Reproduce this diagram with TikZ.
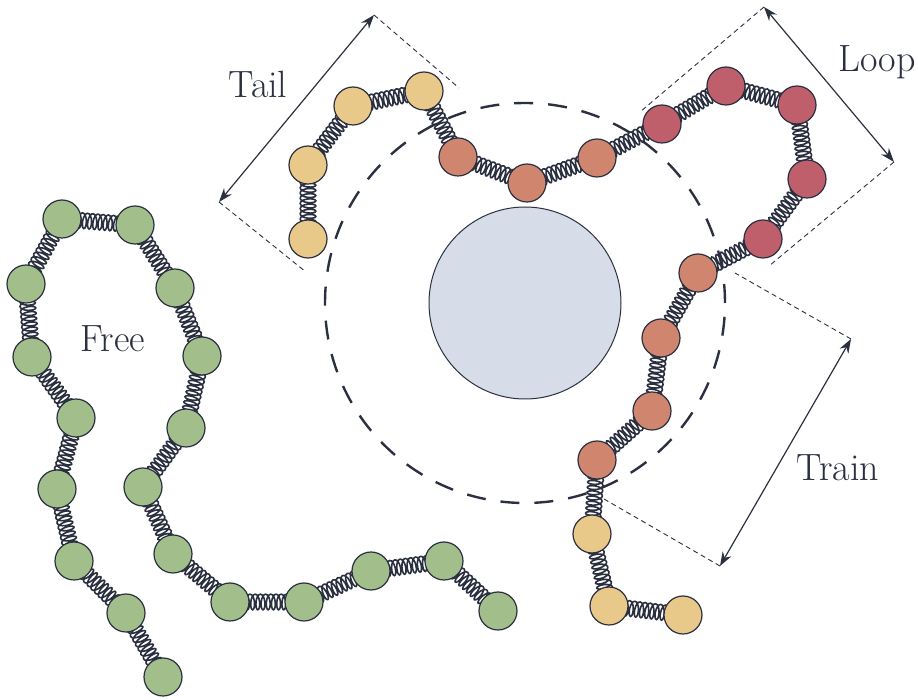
\documentclass[tikz,border=0pt]{standalone}
\usetikzlibrary{decorations.pathmorphing, arrows.meta, backgrounds}
\definecolor{encre}{RGB}{43,48,64}
\definecolor{jaune}{RGB}{233,201,138}
\definecolor{brique}{RGB}{208,134,110}
\definecolor{rouge}{RGB}{190,95,107}
\definecolor{vert}{RGB}{161,190,139}
\definecolor{gris}{RGB}{214,220,232}
\begin{document}
\begin{tikzpicture}[x=0.5pt, y=-0.5pt, font=\fontsize{19}{23}\selectfont]
	\tikzset{bille/.style={circle, draw=encre, line width=0.6pt, minimum size=19pt, inner sep=0pt},
	ressort/.style={encre, line width=0.8pt, decorate, decoration={coil, amplitude=3.9pt, aspect=0.4, segment length=2.6pt}},
	cote/.style={encre, line width=0.6pt, {Stealth[length=7pt, width=5pt]}-{Stealth[length=7pt, width=5pt]}},
	rappel/.style={encre, line width=0.45pt, dash pattern=on 2.5pt off 1.8pt},
	etiq/.style={text=encre}};
	\useasboundingbox (0,0) rectangle (918,700);

	% particule
	\node[circle, draw=encre, line width=0.5pt, fill=gris, minimum size=96pt, inner sep=0pt] (P) at (525,303) {};

	% chaine adsorbee : queue, train, boucle, train, queue
	\foreach \i/\x/\y/\c in {1/308/239/jaune, 2/308/165/jaune, 3/353/106/jaune, 4/424/91/jaune,
			5/458/157/brique, 6/527/183/brique, 7/597/158/brique,
			8/662/124/rouge, 9/726/86/rouge, 10/797/105/rouge, 11/807/179/rouge, 12/763/239/rouge,
			13/698/273/brique, 14/661/338/brique, 15/652/411/brique, 16/597/460/brique,
			17/592/534/jaune, 18/609/606/jaune, 19/683/615/jaune} {
		\node[bille, fill=\c] (C\i) at (\x,\y) {};
	}

	% chaine libre
	\foreach \i/\x/\y in {1/163/677, 2/126/613, 3/74/561, 4/57/489, 5/76/418, 6/32/357, 7/26/284,
			8/62/219, 9/135/225, 10/175/288, 11/202/356, 12/186/428, 13/143/487, 14/173/554,
			15/230/602, 16/304/602, 17/371/571, 18/444/561, 19/498/611} {
		\node[bille, fill=vert] (L\i) at (\x,\y) {};
	}

	% ressorts sous les billes
	\begin{pgfonlayer}{background}
		\foreach \i [remember=\i as \j (initially 1)] in {2,...,19} {
			\draw[ressort] (C\j.center) -- (C\i.center);
			\draw[ressort] (L\j.center) -- (L\i.center);
		}
		\draw[encre, line width=1.2pt, dash pattern=on 9.5pt off 7.5pt] (P.center) circle[radius=100pt];
	\end{pgfonlayer}

	% cotes
	\coordinate (t1) at (219,202);
	\coordinate (t2) at (374,15);
	\coordinate (t3) at (306,272);
	\coordinate (t4) at (459,88);
	\draw[cote] (t1) -- (t2);
	\draw[rappel] (t2) -- (t4);
	\draw[rappel] (t1) -- (t3);
	\node[etiq] (tail) at (258,84) {Tail};

	\coordinate (b1) at (764,7);
	\coordinate (b2) at (894,162);
	\coordinate (b3) at (640,112);
	\coordinate (b4) at (769,266);
	\draw[cote] (b1) -- (b2);
	\draw[rappel] (b1) -- (b3);
	\draw[rappel] (b2) -- (b4);
	\node[etiq] (loop) at (877,62) {Loop};

	\coordinate (r1) at (851,339);
	\coordinate (r2) at (720,566);
	\coordinate (r3) at (735,273);
	\coordinate (r4) at (604,499);
	\draw[cote] (r1) -- (r2);
	\draw[rappel] (r1) -- (r3);
	\draw[rappel] (r2) -- (r4);
	\node[etiq] (train) at (838,468) {Train};

	\node[etiq] (free) at (113,339) {Free};
\end{tikzpicture}
\end{document}
